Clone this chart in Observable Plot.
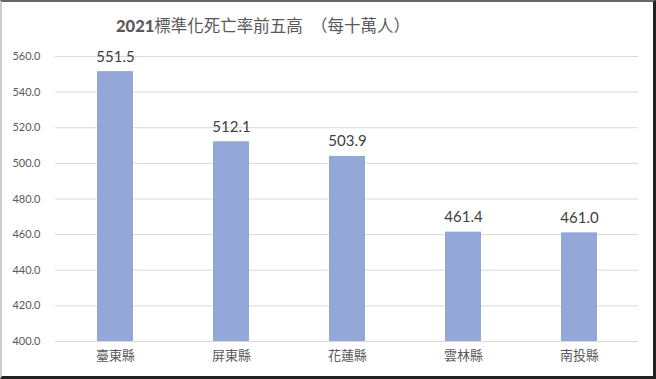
<!DOCTYPE html>
<html><head><meta charset="utf-8">
<script src="https://cdn.jsdelivr.net/npm/d3@7"></script>
<script src="https://cdn.jsdelivr.net/npm/@observablehq/plot@0.6"></script>
<style>
html,body{margin:0;padding:0;background:#fff;}
#frame{box-sizing:border-box;width:656px;height:379px;border-top:2px solid #666;border-left:2px solid #ccc;border-right:3px solid #222;border-bottom:3px solid #222;background:#fff;overflow:hidden;}
#title{height:40px;line-height:46px;text-align:left;padding-left:114px;font-family:"Noto Sans CJK TC",Lato,sans-serif;font-size:16.5px;color:#595959;white-space:pre;}
#title b{font-family:Lato,"Noto Sans CJK TC",sans-serif;font-weight:900;}
svg{display:block;}
</style></head>
<body><div id="frame"><div id="title"><b>2021</b>標準化死亡率前五高　（每十萬人）</div><div id="chart"></div></div>
<script>
const counties = ["臺東縣","屏東縣","花蓮縣","雲林縣","南投縣"];
const rates = [551.5, 512.1, 503.9, 461.4, 461.0];
const yTicks = [400,420,440,460,480,500,520,540,560];
const baseline = 400;

const data = counties.map((c,i)=>({county:c, rate:rates[i]}));

const chart = Plot.plot({
  width: 651,
  height: 334,
  marginTop: 14,
  marginBottom: 35,
  marginLeft: 53,
  marginRight: 15,
  style: {fontFamily: "Lato, 'Noto Sans CJK TC', sans-serif", background: "#fff"},
  x: {domain: counties, paddingInner: 0.69, paddingOuter: 0.345, label: null, tickSize: 0, tickPadding: 9},
  y: {domain: [400, 560], ticks: yTicks, label: null, tickSize: 0, tickPadding: 15, tickFormat: d => d.toFixed(1)},
  marks: [
    Plot.ruleY(yTicks, {stroke: "#d9d9d9", strokeWidth: 1}),
    Plot.barY(data, {x: "county", y1: () => baseline, y2: "rate", fill: "#93a8d6"}),
    Plot.text(data, {x: "county", y: "rate", text: d => d.rate.toFixed(1), dy: -10, lineAnchor: "bottom", fontSize: 15, fill: "#404040"}),
    Plot.axisY({ticks: yTicks, tickSize: 0, tickPadding: 15, tickFormat: d => d.toFixed(1), fontSize: 11, color: "#595959", label: null}),
    Plot.axisX({tickSize: 0, tickPadding: 9, fontSize: 13, color: "#595959", label: null, fontFamily: "'Noto Sans CJK TC', sans-serif"})
  ]
});
document.getElementById("chart").appendChild(chart);
</script></body></html>
